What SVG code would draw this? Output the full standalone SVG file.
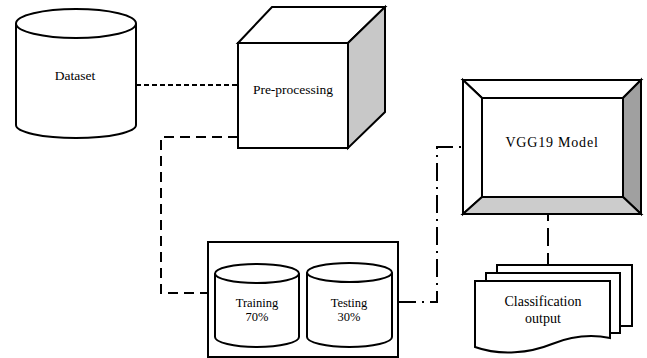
<svg xmlns="http://www.w3.org/2000/svg" width="647" height="358" viewBox="0 0 647 358">
<style>
.s{stroke:#000;stroke-width:2;fill:#fff;stroke-linejoin:miter}
.t{font-family:'Liberation Serif','DejaVu Serif',Tinos,'Times New Roman',serif;fill:#000;text-anchor:middle}
.c{fill:none;stroke:#000;stroke-width:2}
</style>
<rect width="647" height="358" fill="#fff"/>
<g id="connectors">
<path class="c" d="M136,85 H238" stroke-dasharray="5 3"/>
<path class="c" d="M238,137 H161 V293 H208" stroke-dasharray="10 6"/>
<path class="c" d="M398,302 H437 V147 H463" stroke-dasharray="18 6 2 6"/>
<path class="c" d="M548,203 V281" stroke-dasharray="18 7"/>
</g>
<g id="dataset">
<path class="s" d="M16,23.5 V125 A60,13 0 0 0 136,125 V23.5"/>
<ellipse class="s" cx="76" cy="23.5" rx="60" ry="14.5"/>
<text class="t" x="75" y="80" font-size="13.5" font-family="Liberation Serif, serif">Dataset</text>
</g>
<g id="preprocessing">
<polygon class="s" points="238,43 272,7 385,7 348,43"/>
<polygon class="s" points="348,43 385,7 385,112 348,148" style="fill:#c8c8c8"/>
<rect class="s" x="238" y="43" width="110" height="105"/>
<text class="t" x="293" y="94" font-size="13.5" font-family="Liberation Serif, serif">Pre-processing</text>
</g>
<g id="split">
<rect class="s" x="208" y="242" width="190" height="115"/>
<g id="training">
<path class="s" d="M215,273.5 V337 A42,10 0 0 0 299,337 V273.5"/>
<ellipse class="s" cx="257" cy="273.5" rx="42" ry="9.5"/>
<text class="t" x="257" y="307" font-size="12.5" font-family="Liberation Serif, serif">Training</text>
<text class="t" x="257" y="321" font-size="12.5" font-family="Liberation Serif, serif">70%</text>
</g>
<g id="testing">
<path class="s" d="M307,272.5 V337 A42.5,10 0 0 0 392,337 V272.5"/>
<ellipse class="s" cx="349.5" cy="272.5" rx="42.5" ry="9.5"/>
<text class="t" x="349" y="307" font-size="12.5" font-family="Liberation Serif, serif">Testing</text>
<text class="t" x="349" y="321" font-size="12.5" font-family="Liberation Serif, serif">30%</text>
</g>
</g>
<g id="vgg19">
<rect class="s" x="463" y="80" width="178" height="134"/>
<polygon class="s" points="463,80 641,80 623,98 482,98"/>
<polygon class="s" points="463,80 482,98 482,197 463,214"/>
<polygon class="s" points="641,80 641,214 623,197 623,98" style="fill:#a0a0a0"/>
<polygon class="s" points="463,214 482,197 623,197 641,214" style="fill:#cccccc"/>
<rect class="s" x="482" y="98" width="141" height="99"/>
<text class="t" x="552" y="147" font-size="14" letter-spacing="0.8" font-family="Liberation Serif, serif">VGG19 Model</text>
</g>
<g id="output">
<rect class="s" x="497" y="265" width="135" height="61"/>
<rect class="s" x="486" y="273" width="134" height="60"/>
<path class="s" d="M475,281 H610 V338 C590,334 572,336 552,344 C530,353 500,356 475,347 Z"/>
<text class="t" x="543" y="306" font-size="14" font-family="Liberation Serif, serif">Classification</text>
<text class="t" x="543" y="323" font-size="14" font-family="Liberation Serif, serif">output</text>
</g>
</svg>
